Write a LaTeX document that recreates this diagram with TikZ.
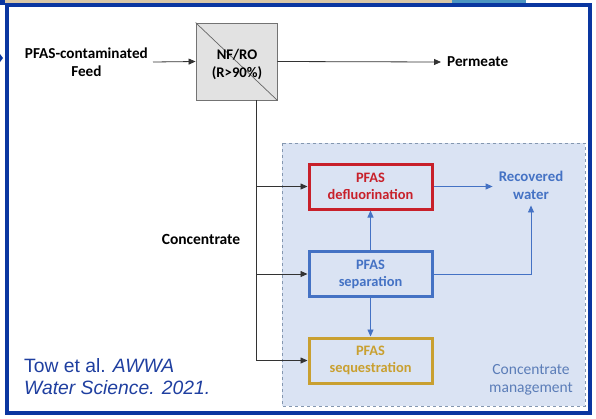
\documentclass[tikz,border=0pt]{standalone}
\usepackage{fontspec}
\setmainfont{Carlito}
\newfontfamily\arialf{Liberation Sans}
\usetikzlibrary{arrows.meta,calc}
\definecolor{frameblue}{HTML}{0A36A0}
\definecolor{tanc}{HTML}{D9C7A6}
\definecolor{topblue}{HTML}{4C95C2}
\definecolor{pred}{HTML}{C8202A}
\definecolor{pblue}{HTML}{4472C4}
\definecolor{pgold}{HTML}{C9A030}
\definecolor{cmfill}{HTML}{DAE3F3}
\definecolor{cmdash}{HTML}{8497B0}
\definecolor{cmtext}{HTML}{5B7DB8}
\definecolor{citeblue}{HTML}{1F3FA0}
\definecolor{boxgray}{HTML}{E2E2E2}
\tikzset{
  lbl/.style={font=\fontsize{15.2}{18.5}\selectfont\bfseries, align=center, inner sep=0pt},
  pbox/.style={draw, line width=3pt, minimum width=123pt, minimum height=45pt, align=center, inner sep=0pt, font=\fontsize{14.4}{17}\selectfont\bfseries},
  blkarrow/.style={draw=black!80, line width=0.8pt, -{Triangle[length=7pt,width=6pt]}},
  bluearrow/.style={draw=pblue, line width=0.9pt, -{Triangle[length=7pt,width=6pt]}},
}
\begin{document}
\begin{tikzpicture}[x=1pt,y=-1pt]
\useasboundingbox (0,0) rectangle (596,418);
\fill[white] (0,0) rectangle (596,418);
% top slide strip
\fill[tanc] (5,0) rectangle (452,4);
\fill[topblue] (452,0) rectangle (526,4);
\fill[frameblue] (0,0) rectangle (5,5);
\fill[frameblue] (0,54) -- (3,58) -- (0,62) -- cycle;
% frame
\draw[frameblue, line width=4pt] (7,5) rectangle (590,413);
% concentrate management region
\draw[cmdash, fill=cmfill, dashed, line width=0.7pt] (282,143) rectangle (585,406);
% nodes
\node[draw=black!55, fill=boxgray, line width=0.9pt, minimum width=81pt, minimum height=77pt, inner sep=0pt] (nfro) at (236.5,61.5) {};
\draw[black!60, line width=0.7pt] (nfro.north west) -- (nfro.south east);
\node[lbl, font=\fontsize{14.7}{18}\selectfont\bfseries] (nfrot) at (237,64) {NF/RO\\(R>90\%)};
\node[lbl, anchor=east] (feed) at (148,62) {PFAS-contaminated\\Feed};
\node[lbl, anchor=west] (perm) at (447,62) {Permeate};
\node[lbl, font=\fontsize{15.5}{18}\selectfont\bfseries] (conc) at (201,239) {Concentrate};
\node[pbox, draw=pred, text=pred, fill=cmfill] (defl) at (370.5,186.5) {PFAS\\defluorination};
\node[pbox, draw=pblue, text=pblue, fill=cmfill] (sep) at (370.5,274) {PFAS\\separation};
\node[pbox, draw=pgold, text=pgold, fill=cmfill] (seq) at (370.5,360.5) {PFAS\\sequestration};
\node[lbl, text=pblue, font=\fontsize{14.8}{18}\selectfont\bfseries] (rec) at (531,185) {Recovered\\water};
\node[align=center, text=cmtext, font=\fontsize{15.5}{18}\selectfont, inner sep=0pt] (cm) at (531,380) {Concentrate\\management};
\node[anchor=north west, align=left, text=citeblue, font=\arialf\fontsize{19.3}{22}\selectfont, inner sep=0pt] (cite) at (24,358) {Tow et al. \textit{AWWA}\\\textit{Water Science. 2021.}};
% connectors
\coordinate (tk) at (256,360.5);
\draw[blkarrow] (feed.east)+(5,0) -- (nfro.west);
\draw[blkarrow] (nfro.east) -- ($(perm.west)+(-6,0)$);
\draw[black!80, line width=0.8pt] (nfro.south -| tk) -- (tk);
\draw[blkarrow] (defl.west -| tk) -- (defl.west);
\draw[blkarrow] (sep.west -| tk) -- (sep.west);
\draw[blkarrow] (tk) -- (seq.west |- tk);
\draw[bluearrow] (defl.east) -- ($(rec.west |- defl.east)+(-6,0)$);
\draw[bluearrow] (sep.north) -- (defl.south);
\draw[bluearrow] (sep.south) -- (seq.north);
\draw[bluearrow] (sep.east) -| ($(rec.south)+(0,6)$);
\end{tikzpicture}
\end{document}
